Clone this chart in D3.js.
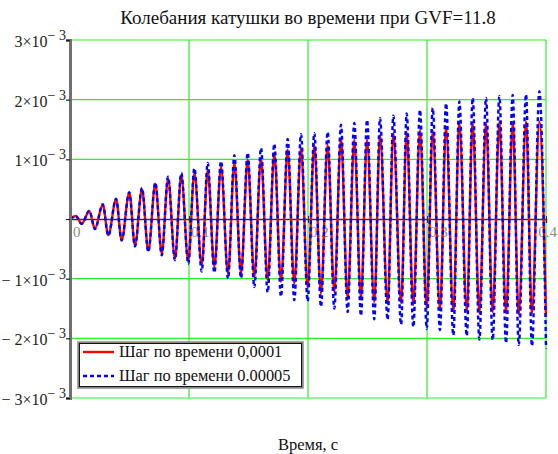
<!DOCTYPE html>
<html>
<head>
<meta charset="utf-8">
<script src="https://cdn.jsdelivr.net/npm/d3@7"></script>
<style>
  html, body { margin: 0; padding: 0; background: #fff; }
  svg { display: block; }
  text { font-family: "Liberation Serif", "Times New Roman", serif; }
</style>
</head>
<body>
<svg id="chart" width="558" height="454"></svg>
<script>
// Coil displacement (units of 1e-3), read at each crest and trough
const peakTimes = [0.0050, 0.0162, 0.0275, 0.0387, 0.0498, 0.0605, 0.0717, 0.0824, 0.0935, 0.1045,
                   0.1157, 0.1269, 0.1381, 0.1493, 0.1605, 0.1717, 0.1829, 0.1941, 0.2053, 0.2165,
                   0.2277, 0.2389, 0.2496, 0.2605, 0.2717, 0.2829, 0.2941, 0.3048, 0.3160, 0.3272,
                   0.3384, 0.3496, 0.3608, 0.3720, 0.3832, 0.3944];
const troughTimes = [0.0098, 0.0210, 0.0322, 0.0434, 0.0546, 0.0658, 0.0771, 0.0882, 0.0994, 0.1107,
                     0.1213, 0.1328, 0.1437, 0.1549, 0.1661, 0.1773, 0.1885, 0.1997, 0.2109, 0.2221,
                     0.2333, 0.2445, 0.2557, 0.2669, 0.2782, 0.2885, 0.2998, 0.3109, 0.3221, 0.3334,
                     0.3440, 0.3552, 0.3664, 0.3771, 0.3882, 0.4000];

// time step 0.0001
const redPeaks = [0.05, 0.13, 0.24, 0.33, 0.44, 0.50, 0.59, 0.68, 0.73, 0.77,
                  0.82, 0.87, 0.94, 0.99, 1.02, 1.10, 1.16, 1.19, 1.24, 1.24,
                  1.35, 1.33, 1.33, 1.41, 1.44, 1.46, 1.49, 1.49, 1.55, 1.61,
                  1.61, 1.61, 1.63, 1.61, 1.63, 1.63];
const redTroughs = [-0.08, -0.16, -0.27, -0.35, -0.44, -0.53, -0.58, -0.66, -0.70, -0.77,
                    -0.80, -0.91, -0.91, -0.97, -1.02, -1.05, -1.08, -1.15, -1.25, -1.22,
                    -1.33, -1.33, -1.39, -1.41, -1.41, -1.44, -1.50, -1.52, -1.55, -1.53,
                    -1.58, -1.56, -1.58, -1.60, -1.58, -1.64];

// time step 0.00005
const bluePeaks = [0.05, 0.14, 0.25, 0.34, 0.45, 0.52, 0.61, 0.71, 0.77, 0.85,
                   0.94, 0.97, 1.07, 1.11, 1.19, 1.26, 1.34, 1.42, 1.44, 1.46,
                   1.58, 1.61, 1.66, 1.69, 1.73, 1.77, 1.83, 1.86, 1.94, 1.97,
                   2.03, 2.03, 2.06, 2.08, 2.09, 2.14];
const blueTroughs = [-0.08, -0.17, -0.28, -0.36, -0.46, -0.55, -0.61, -0.69, -0.75, -0.88,
                     -0.90, -1.00, -0.99, -1.14, -1.23, -1.30, -1.36, -1.38, -1.47, -1.50,
                     -1.56, -1.62, -1.68, -1.69, -1.77, -1.81, -1.84, -1.86, -1.95, -1.96,
                     -2.02, -2.03, -2.08, -2.11, -2.13, -2.17];

const xTicks = [0, 0.1, 0.2, 0.3, 0.4];
const xTickLabels = ["0", "0.1", "0.2", "0.3", "0.4"];
const yTicks = [3, 2, 1, 0, -1, -2, -3];
const yTickLabels = ["3×10", "2×10", "1×10", "", "− 1×10", "− 2×10", "− 3×10"];

const titleText = "Колебания катушки во времени при GVF=11.8";
const xTitle = "Время, с";
const legendNames = ["Шаг по времени 0,0001", "Шаг по времени 0.00005"];

const svg = d3.select("#chart");
const x = d3.scaleLinear().domain([0, 0.4]).range([70, 546]);
const y = d3.scaleLinear().domain([-3, 3]).range([398, 40]);

function series(peaks, troughs) {
  const pts = [[0, 0]];
  peaks.forEach((p, i) => {
    pts.push([peakTimes[i], p]);
    pts.push([troughTimes[i], troughs[i]]);
  });
  return pts;
}

// grid
const grid = svg.append("g").attr("stroke", "#2bef2b").attr("stroke-width", 1.2);
xTicks.filter(t => t > 0).forEach(t => {
  grid.append("line").attr("x1", x(t)).attr("x2", x(t)).attr("y1", y(3)).attr("y2", y(-3));
});
yTicks.filter(t => t !== 0).forEach(t => {
  grid.append("line").attr("x1", x(0)).attr("x2", x(0.4)).attr("y1", y(t)).attr("y2", y(t));
});

// x tick labels sit just under the zero line, right of each gridline;
// the last one is pulled in so it stays inside the page
svg.append("g").selectAll("text").data(xTicks).join("text")
  .attr("x", (d, i) => i === xTicks.length - 1 ? 557 : x(d) + (i === 0 ? 3 : 2))
  .attr("text-anchor", (d, i) => i === xTicks.length - 1 ? "end" : "start")
  .attr("y", y(0) + 18)
  .attr("font-size", 15)
  .attr("fill", "#8a8a80")
  .text((d, i) => xTickLabels[i]);

// x axis line
const xAxis = d3.axisBottom(x).tickValues(xTicks).tickSize(4).tickFormat("");
svg.append("g").attr("transform", `translate(0,${y(0)})`).call(xAxis)
  .call(g => g.select(".domain").attr("stroke", "#333").attr("stroke-width", 1.5))
  .call(g => g.selectAll(".tick line").attr("stroke", "#333").attr("y1", -3));

// curves
const line = d3.line().x(d => x(d[0])).y(d => y(d[1])).curve(d3.curveMonotoneX);
svg.append("path").datum(series(redPeaks, redTroughs))
  .attr("fill", "none").attr("stroke", "#ff0000").attr("stroke-width", 2.4)
  .attr("d", line);
svg.append("path").datum(series(bluePeaks, blueTroughs))
  .attr("fill", "none").attr("stroke", "#0000ff").attr("stroke-width", 2.4)
  .attr("stroke-dasharray", "4,3")
  .attr("d", line);

// y axis
const yAxis = d3.axisLeft(y).tickValues(yTicks).tickSize(4).tickFormat("");
svg.append("g").attr("transform", `translate(${x(0)},0)`).call(yAxis)
  .call(g => g.select(".domain").attr("stroke", "#707070").attr("stroke-width", 3))
  .call(g => g.selectAll(".tick line").attr("stroke", "#222").attr("stroke-width", 1.2));

const yl = svg.append("g").selectAll("text").data(yTicks.filter(t => t !== 0)).join("text")
  .attr("x", 66)
  .attr("y", d => y(d) + 7)
  .attr("text-anchor", "end")
  .attr("font-size", 16)
  .attr("fill", "#222");
yl.append("tspan").text(d => yTickLabels[yTicks.indexOf(d)]);
yl.append("tspan").attr("dy", -7).attr("font-size", 14).text("− 3");

// title and axis title
svg.append("text").attr("x", (x(0) + x(0.4)) / 2).attr("y", 24)
  .attr("text-anchor", "middle").attr("font-size", 19).attr("fill", "#111").text(titleText);
svg.append("text").attr("x", (x(0) + x(0.4)) / 2).attr("y", 450)
  .attr("text-anchor", "middle").attr("font-size", 16.5).attr("fill", "#111").text(xTitle);

// legend
const lg = svg.append("g");
lg.append("rect").attr("x", 78.5).attr("y", 342.5).attr("width", 224).attr("height", 45)
  .attr("fill", "#fff").attr("stroke", "#888").attr("stroke-width", 2.5);
lg.append("rect").attr("x", 79.5).attr("y", 343.5).attr("width", 222).attr("height", 43)
  .attr("fill", "none").attr("stroke", "#111").attr("stroke-width", 1);
const legendStyles = [{ c: "#ff0000", dash: null }, { c: "#0000ff", dash: "4,3" }];
legendNames.forEach((name, i) => {
  const yy = 352 + i * 24;
  lg.append("line").attr("x1", 83).attr("x2", 114).attr("y1", yy).attr("y2", yy)
    .attr("stroke", legendStyles[i].c).attr("stroke-width", 2.4)
    .attr("stroke-dasharray", legendStyles[i].dash);
  lg.append("text").attr("x", 119).attr("y", yy + 5).attr("font-size", 16.4)
    .attr("fill", "#111").text(name);
});
</script>
</body>
</html>
